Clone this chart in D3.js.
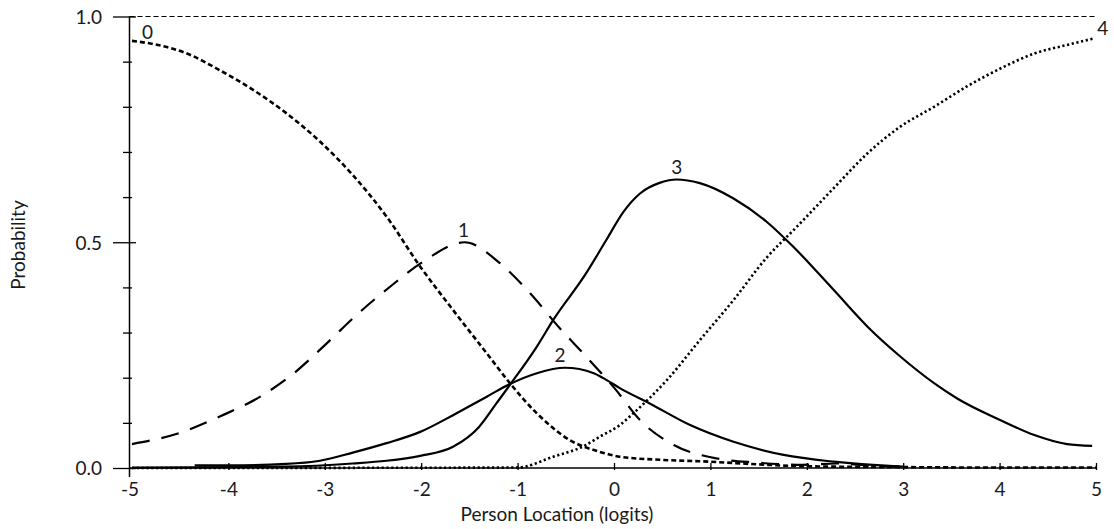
<!DOCTYPE html>
<html>
<head>
<meta charset="utf-8">
<script src="https://cdn.jsdelivr.net/npm/d3@7"></script>
<style>
  body { margin:0; background:#fff; }
  text { font-family: Lato, "Open Sans", sans-serif; fill:#1a1a1a; }
</style>
</head>
<body>
<div id="chart"></div>
<script>
// category probability curves
var c0X = [-5,-4.78,-4.43,-4.09,-3.74,-3.4,-3.05,-2.71,-2.36,-2.01,-1.67,-1.32,-1.08,-0.8,-0.46,-0.15,0.06,0.5,0.99,1.5,1.95,3,4,5];
var c0P = [0.946,0.939,0.918,0.881,0.837,0.786,0.723,0.649,0.557,0.446,0.35,0.254,0.188,0.121,0.062,0.036,0.025,0.018,0.014,0.008,0.004,0.002,0.001,0.001];

var c1X = [-5,-4.5,-4.09,-3.67,-3.32,-2.98,-2.67,-2.32,-1.98,-1.55,-1.18,-0.87,-0.56,-0.29,0.02,0.27,0.62,1.07,1.48,1.95,2.3,2.7,3];
var c1P = [0.053,0.078,0.114,0.158,0.21,0.276,0.339,0.402,0.457,0.5,0.453,0.387,0.309,0.247,0.173,0.106,0.051,0.021,0.012,0.007,0.01,0.005,0.003];

var c2X = [-4.35,-4,-3.4,-3.05,-2.71,-2.36,-2.01,-1.67,-1.32,-1.08,-0.8,-0.51,-0.21,-0.11,0.06,0.37,0.79,1.24,1.76,2.28,2.9,3];
var c2P = [0.006,0.006,0.009,0.016,0.034,0.055,0.08,0.117,0.158,0.186,0.21,0.222,0.21,0.199,0.177,0.143,0.095,0.058,0.029,0.014,0.004,0.003];

var c3X = [-5,-4,-3.4,-2.71,-2.36,-2.01,-1.67,-1.4,-1.22,-1.08,-0.8,-0.63,-0.29,-0.08,0.1,0.27,0.48,0.65,0.89,1.24,1.58,1.86,2.28,2.63,2.97,3.32,3.56,4.01,4.36,4.7,4.96];
var c3P = [0.001,0.002,0.003,0.01,0.016,0.027,0.047,0.091,0.143,0.184,0.269,0.328,0.431,0.505,0.568,0.608,0.632,0.639,0.631,0.597,0.546,0.49,0.394,0.313,0.247,0.188,0.154,0.106,0.073,0.053,0.049];

var c4X = [-5,-1,-0.63,-0.29,-0.15,0.06,0.2,0.55,0.89,1.24,1.58,1.9,2.28,2.63,2.97,3.32,3.66,4.01,4.36,4.7,4.99];
var c4P = [0,0.001,0.025,0.051,0.069,0.095,0.121,0.195,0.283,0.372,0.465,0.535,0.62,0.697,0.756,0.8,0.845,0.885,0.918,0.937,0.952];

var catNames = ["0","1","2","3","4"];
var labelX = [-4.84,-1.56,-0.56,0.65,5.07];
var labelP = [0.95,0.512,0.235,0.651,0.959];

var xTicks = [-5,-4,-3,-2,-1,0,1,2,3,4,5];
var yTicks = [0,0.1,0.2,0.3,0.4,0.5,0.6,0.7,0.8,0.9,1.0];
var yLabeled = [0,0.5,1.0];

const W = 1114, H = 529;
const svg = d3.select("#chart").append("svg").attr("width",W).attr("height",H);

var x = d3.scaleLinear().domain([-5,5]).range([132,1096]);
var y = d3.scaleLinear().domain([0,1]).range([468,16.5]);
var axX = 129.5;
var isMajor = d => yLabeled.some(v=>Math.abs(v-d)<1e-6);

// top reference line at 1.0
svg.append("line")
  .attr("x1",axX).attr("x2",x(5)).attr("y1",y(1)).attr("y2",y(1))
  .attr("stroke","#000").attr("stroke-width",1).attr("stroke-dasharray","5,3");

// y axis
var yAxis = d3.axisLeft(y).tickValues(yTicks)
  .tickFormat(d => isMajor(d) ? d3.format(".1f")(d) : "");
var gy = svg.append("g").attr("transform","translate("+axX+",0)").call(yAxis);
gy.select(".domain").remove();
gy.selectAll(".tick line")
  .attr("x1", d => isMajor(d) ? -16.5 : -6.5)
  .attr("x2", d => isMajor(d) ? 6.5 : 2.5)
  .attr("stroke","#000").attr("stroke-width",1.3);
gy.selectAll(".tick text").attr("x",-27.5).attr("dy","0.36em")
  .style("font-size","19px").style("font-family","Lato, sans-serif").attr("fill","#1a1a1a");
svg.append("line").attr("x1",axX).attr("x2",axX).attr("y1",y(1)).attr("y2",477)
  .attr("stroke","#000").attr("stroke-width",1.5);

// x axis
var xAxis = d3.axisBottom(x).tickValues(xTicks).tickFormat(d => String(d));
var gx = svg.append("g").attr("transform","translate(0,"+y(0)+")").call(xAxis);
gx.select(".domain").remove();
gx.selectAll(".tick line").attr("y1",d => d==-5 ? 0 : -5).attr("y2",d => d==-5 ? 0 : 2)
  .attr("stroke","#000").attr("stroke-width",1.3);
gx.selectAll(".tick text").attr("y",28).attr("dy",0)
  .attr("transform", d => d==-5 ? "translate("+(axX-x(-5))+",0)" : null)
  .style("font-size","19px").style("font-family","Lato, sans-serif").attr("fill","#1a1a1a");
svg.append("line").attr("x1",axX).attr("x2",x(5)).attr("y1",y(0)).attr("y2",y(0))
  .attr("stroke","#000").attr("stroke-width",1.5);

// curves
var series = [
  {xs:c0X, ps:c0P, dash:"5,3", w:2.6},
  {xs:c1X, ps:c1P, dash:"18,12", w:2.2},
  {xs:c2X, ps:c2P, dash:null, w:2.2},
  {xs:c3X, ps:c3P, dash:null, w:2.2},
  {xs:c4X, ps:c4P, dash:"2.2,2.6", w:2.6}
];
var line = d3.line().x(d=>x(d[0])).y(d=>y(d[1])).curve(d3.curveMonotoneX);
series.forEach(function(s){
  var pts = s.xs.map((v,i)=>[v,s.ps[i]]);
  svg.append("path").datum(pts)
    .attr("d",line)
    .attr("fill","none")
    .attr("stroke","#000")
    .attr("stroke-width",s.w)
    .attr("stroke-dasharray",s.dash);
});

// category labels
svg.selectAll("text.cat").data(catNames).enter().append("text")
  .attr("class","cat")
  .attr("x",(d,i)=>x(labelX[i]))
  .attr("y",(d,i)=>y(labelP[i]))
  .attr("text-anchor","middle")
  .style("font-size","19px")
  .text(d=>d);

// axis titles
svg.append("text").attr("x",557).attr("y",521).attr("text-anchor","middle")
  .style("font-size","19px").text("Person Location (logits)");
svg.append("text").attr("transform","translate(25,245) rotate(-90)")
  .attr("text-anchor","middle").style("font-size","19px").text("Probability");
</script>
</body>
</html>
